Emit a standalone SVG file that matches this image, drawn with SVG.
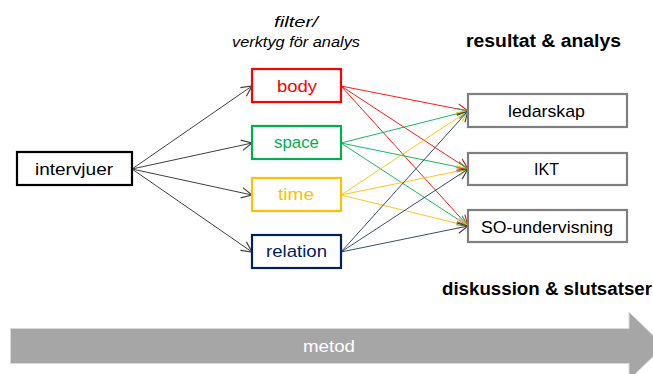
<svg xmlns="http://www.w3.org/2000/svg" width="653" height="374" viewBox="0 0 653 374">
<style>
text{font-family:"Liberation Sans",Arial,sans-serif;}
.lbl{font-size:17px;text-anchor:start;}
.hdr{font-size:18px;font-weight:bold;fill:#000;}
.it{font-size:15px;font-style:italic;fill:#000;}
.box{fill:#fff;stroke-width:2.2;}
.g{stroke:#404040;stroke-width:1;fill:none;}
.r{stroke:#ff0000;stroke-width:0.9;fill:none;}
.gr{stroke:#00b050;stroke-width:0.9;fill:none;}
.y{stroke:#ffc000;stroke-width:0.9;fill:none;}
.b{stroke:#203864;stroke-width:0.9;fill:none;}
</style>
<defs>
<marker id="ag" markerUnits="userSpaceOnUse" markerWidth="14" markerHeight="14" refX="10" refY="5" orient="auto" viewBox="0 0 12 10"><path d="M1,0.5 L10,5 L1,9.5" fill="none" stroke="#404040" stroke-width="1"/></marker>
<marker id="ar" markerUnits="userSpaceOnUse" markerWidth="14" markerHeight="14" refX="10" refY="5" orient="auto" viewBox="0 0 12 10"><path d="M1,0.5 L10,5 L1,9.5" fill="none" stroke="#ff0000" stroke-width="0.9"/></marker>
<marker id="agr" markerUnits="userSpaceOnUse" markerWidth="14" markerHeight="14" refX="10" refY="5" orient="auto" viewBox="0 0 12 10"><path d="M1,0.5 L10,5 L1,9.5" fill="none" stroke="#00b050" stroke-width="0.9"/></marker>
<marker id="ay" markerUnits="userSpaceOnUse" markerWidth="14" markerHeight="14" refX="10" refY="5" orient="auto" viewBox="0 0 12 10"><path d="M1,0.5 L10,5 L1,9.5" fill="none" stroke="#ffc000" stroke-width="0.9"/></marker>
<marker id="ab" markerUnits="userSpaceOnUse" markerWidth="14" markerHeight="14" refX="10" refY="5" orient="auto" viewBox="0 0 12 10"><path d="M1,0.5 L10,5 L1,9.5" fill="none" stroke="#203864" stroke-width="0.9"/></marker>
</defs>
<rect width="653" height="374" fill="#fff"/>

<g id="timeline">
<path d="M10.5,328.5 L629,328.5 L629,312 L664,346 L629,380 L629,363.5 L10.5,363.5 Z" fill="#a6a6a6" stroke="#d9d9d9" stroke-width="1"/>
<text x="303" y="352" class="lbl" fill="#fff" textLength="52" lengthAdjust="spacingAndGlyphs">metod</text>
</g>

<g id="headers">
<text x="274" y="27" class="it" textLength="44" lengthAdjust="spacingAndGlyphs">filter/</text>
<text x="232" y="47" class="it" textLength="128" lengthAdjust="spacingAndGlyphs">verktyg för analys</text>
<text x="466" y="47" class="hdr" textLength="155" lengthAdjust="spacingAndGlyphs">resultat &amp; analys</text>
<text x="442" y="295" class="hdr" textLength="210" lengthAdjust="spacingAndGlyphs">diskussion &amp; slutsatser</text>
</g>

<g id="connectors">
<line class="g" x1="132" y1="169" x2="252" y2="86" marker-end="url(#ag)"/>
<line class="g" x1="132" y1="169" x2="252" y2="143" marker-end="url(#ag)"/>
<line class="g" x1="132" y1="169" x2="252" y2="195" marker-end="url(#ag)"/>
<line class="g" x1="132" y1="169" x2="252" y2="252" marker-end="url(#ag)"/>

<line class="r" x1="341" y1="86" x2="468" y2="111" marker-end="url(#ar)"/>
<line class="r" x1="341" y1="86" x2="468" y2="169" marker-end="url(#ar)"/>
<line class="r" x1="341" y1="86" x2="468" y2="226" marker-end="url(#ar)"/>

<line class="gr" x1="341" y1="143" x2="468" y2="111" marker-end="url(#agr)"/>
<line class="gr" x1="341" y1="143" x2="468" y2="169" marker-end="url(#agr)"/>
<line class="gr" x1="341" y1="143" x2="468" y2="226" marker-end="url(#agr)"/>

<line class="y" x1="341" y1="195" x2="468" y2="111" marker-end="url(#ay)"/>
<line class="y" x1="341" y1="195" x2="468" y2="169" marker-end="url(#ay)"/>
<line class="y" x1="341" y1="195" x2="468" y2="226" marker-end="url(#ay)"/>

<line class="b" x1="341" y1="252" x2="468" y2="111" marker-end="url(#ab)"/>
<line class="b" x1="341" y1="252" x2="468" y2="169" marker-end="url(#ab)"/>
<line class="b" x1="341" y1="252" x2="468" y2="226" marker-end="url(#ab)"/>
</g>

<g id="intervjuer">
<rect class="box" x="17" y="152" width="115" height="33" stroke="#000"/>
<text x="35" y="175" class="lbl" fill="#000" textLength="78" lengthAdjust="spacingAndGlyphs">intervjuer</text>
</g>

<g id="body">
<rect class="box" x="252" y="69" width="89" height="33" stroke="#ff0000"/>
<text x="277" y="92" class="lbl" fill="#ff0000" textLength="40" lengthAdjust="spacingAndGlyphs">body</text>
</g>
<g id="space">
<rect class="box" x="252" y="126" width="89" height="33" stroke="#00b050"/>
<text x="274" y="148" class="lbl" fill="#00b050" textLength="45" lengthAdjust="spacingAndGlyphs">space</text>
</g>
<g id="time">
<rect class="box" x="252" y="178" width="89" height="33" stroke="#ffc000"/>
<text x="278" y="200" class="lbl" fill="#ffc000" textLength="36" lengthAdjust="spacingAndGlyphs">time</text>
</g>
<g id="relation">
<rect class="box" x="252" y="235" width="89" height="33" stroke="#002060"/>
<text x="266" y="257" class="lbl" fill="#002060" textLength="61" lengthAdjust="spacingAndGlyphs">relation</text>
</g>

<g id="ledarskap">
<rect class="box" x="468" y="94" width="159" height="33" stroke="#7f7f7f"/>
<text x="508" y="117" class="lbl" fill="#000" textLength="77" lengthAdjust="spacingAndGlyphs">ledarskap</text>
</g>
<g id="ikt">
<rect class="box" x="468" y="153" width="159" height="32" stroke="#7f7f7f"/>
<text x="534" y="175" class="lbl" fill="#000" textLength="25" lengthAdjust="spacingAndGlyphs">IKT</text>
</g>
<g id="so-undervisning">
<rect class="box" x="468" y="210" width="159" height="32" stroke="#7f7f7f"/>
<text x="481" y="233" class="lbl" fill="#000" textLength="132" lengthAdjust="spacingAndGlyphs">SO-undervisning</text>
</g>
</svg>
